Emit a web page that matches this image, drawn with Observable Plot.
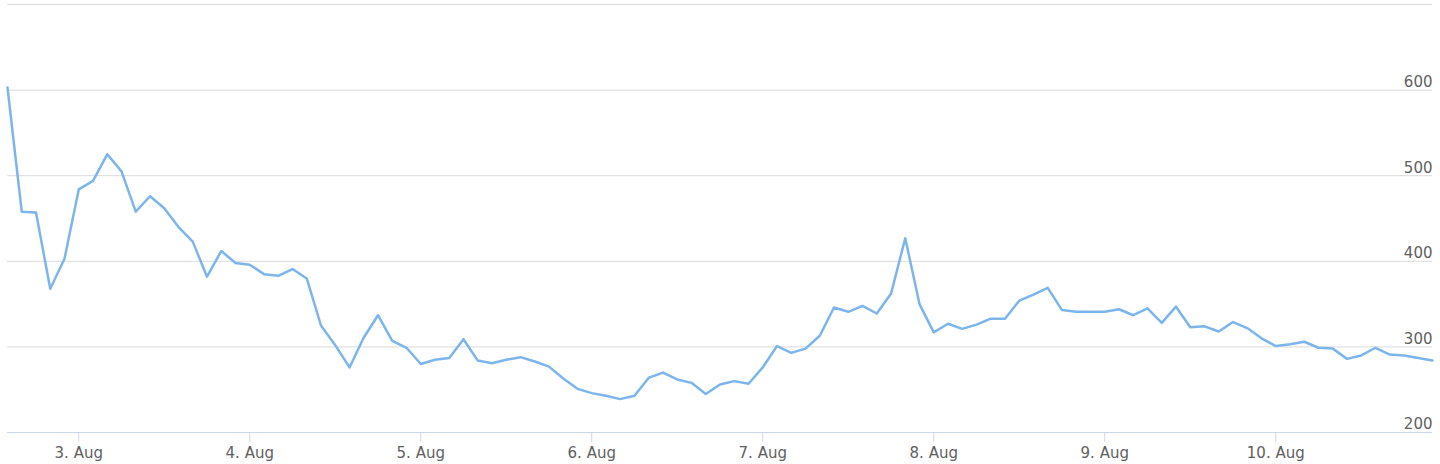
<!DOCTYPE html>
<html>
<head>
<meta charset="utf-8">
<script src="https://cdn.jsdelivr.net/npm/d3@7"></script>
<script src="https://cdn.jsdelivr.net/npm/@observablehq/plot@0.6"></script>
<style>
  html, body { margin: 0; padding: 0; background: #fff; }
  #chart { width: 1440px; height: 464px; }
</style>
</head>
<body>
<div id="chart"></div>
<script>
// Series: one reading every 2 hours, from 2 Aug 14:00 to 10 Aug 22:00
const startTime = "2023-08-02T14:00:00Z";
const stepHours = 2;
const values = [
  603, 458, 457, 368, 403, 484, 494, 525, 505, 458,
  476, 462, 440, 423, 382, 412, 398, 396, 385, 383,
  391, 380, 325, 302, 276, 311, 337, 307, 299, 280,
  285, 287, 309, 284, 281, 285, 288, 283, 277, 263,
  251, 246, 243, 239, 243, 264, 270, 262, 258, 245,
  256, 260, 257, 276, 301, 293, 298, 313, 346, 341,
  348, 339, 362, 427, 350, 317, 327, 321, 326, 333,
  333, 354, 361, 369, 343, 341, 341, 341, 344, 337,
  345, 328, 347, 323, 324, 318, 329, 322, 310, 301,
  303, 306, 299, 298, 286, 290, 299, 291, 290, 287,
  284
];
const xTickDates = ["2023-08-03", "2023-08-04", "2023-08-05", "2023-08-06", "2023-08-07", "2023-08-08", "2023-08-09", "2023-08-10"];
const xTickLabels = ["3. Aug", "4. Aug", "5. Aug", "6. Aug", "7. Aug", "8. Aug", "9. Aug", "10. Aug"];
const yGrid = [300, 400, 500, 600, 700];
const yLabels = [200, 300, 400, 500, 600];

const t0 = new Date(startTime).getTime();
const data = values.map((v, i) => ({ t: new Date(t0 + i * stepHours * 3600 * 1000), v }));
const xTicks = xTickDates.map(d => new Date(d + "T00:00:00Z"));
const labelOf = new Map(xTicks.map((d, i) => [+d, xTickLabels[i]]));

const chart = Plot.plot({
  width: 1440,
  height: 464,
  marginLeft: 7,
  marginRight: 8,
  marginTop: 4,
  marginBottom: 32,
  style: { fontFamily: "DejaVu Sans, sans-serif", fontSize: "15px", background: "#fff", overflow: "visible" },
  x: { type: "utc", domain: [data[0].t, data[data.length - 1].t] },
  y: { domain: [200, 700] },
  marks: [
    Plot.ruleY(yGrid, { stroke: "#dadada", strokeWidth: 1 }),
    Plot.ruleY([200], { stroke: "#ccd6eb", strokeWidth: 1 }),
    Plot.axisX({
      ticks: xTicks,
      tickSize: 10,
      tickPadding: 5,
      stroke: "#ccd6eb",
      fill: "#606060",
      label: null,
      tickFormat: d => labelOf.get(+d)
    }),
    Plot.axisY({ ticks: [], label: null }),
    Plot.text(yLabels, {
      y: d => d,
      text: d => String(d),
      frameAnchor: "right",
      textAnchor: "end",
      lineAnchor: "middle",
      dy: -8,
      fill: "#606060"
    }),
    Plot.line(data, { x: "t", y: "v", stroke: "#7cb5ec", strokeWidth: 2.5, strokeLinejoin: "round", strokeLinecap: "round" })
  ]
});
document.getElementById("chart").appendChild(chart);
</script>
</body>
</html>
